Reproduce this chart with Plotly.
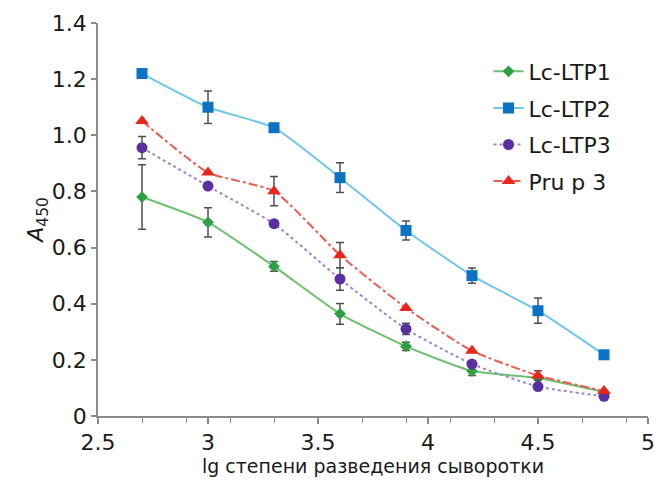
import plotly.graph_objects as go

x_vals = [2.7, 3.0, 3.3, 3.6, 3.9, 4.2, 4.5, 4.8]

ltp1 = [0.78, 0.69, 0.533, 0.364, 0.248, 0.16, 0.135, 0.085]
ltp1_err = [0.115, 0.052, 0.017, 0.037, 0.015, 0.016, 0.0, 0.0]

ltp2 = [1.22, 1.10, 1.027, 0.849, 0.661, 0.50, 0.375, 0.218]
ltp2_err = [0.0, 0.058, 0.0, 0.053, 0.034, 0.027, 0.045, 0.0]

ltp3 = [0.956, 0.819, 0.685, 0.488, 0.31, 0.185, 0.105, 0.07]
ltp3_err = [0.04, 0.0, 0.0, 0.04, 0.02, 0.0, 0.0, 0.0]

prup3 = [1.051, 0.867, 0.801, 0.573, 0.385, 0.232, 0.144, 0.089]
prup3_err = [0.0, 0.0, 0.052, 0.045, 0.0, 0.0, 0.017, 0.0]

series = [
    ("Lc-LTP1", ltp1, ltp1_err, "#6cc070", "#2ea043", "solid", "diamond", 9),
    ("Lc-LTP2", ltp2, ltp2_err, "#6ec6ea", "#0b72c4", "solid", "square", 11),
    ("Lc-LTP3", ltp3, ltp3_err, "#9b86cf", "#5a2fa0", "dot", "circle", 11),
    ("Pru p 3", prup3, prup3_err, "#ee5a4f", "#e8261c", "dashdot", "triangle-up", 12),
]

fig = go.Figure()
for name, y, err, lc, mc, dash, sym, size in series:
    fig.add_trace(go.Scatter(
        x=x_vals, y=y, name=name, mode="lines+markers", legendgroup=name,
        line=dict(color=lc, width=2, dash=dash, shape="spline", smoothing=0.5),
        marker=dict(color=mc, symbol=sym, size=size),
        error_y=dict(type="data", array=err, visible=True, color="#505050",
                     thickness=1.5, width=4),
    ))

font_family = "DejaVu Sans, sans-serif"

fig.update_layout(
    width=663, height=484,
    margin=dict(l=98, r=8, t=23, b=68),
    paper_bgcolor="white", plot_bgcolor="white",
    font=dict(family=font_family, size=22, color="#1a1a1a"),
    legend=dict(x=0.71, y=0.93, xanchor="left", yanchor="top",
                bgcolor="rgba(255,255,255,0)", font=dict(size=22),
                tracegroupgap=5),
    showlegend=True,
)
fig.update_xaxes(
    range=[2.5, 5], tickmode="linear", tick0=2.5, dtick=0.5,
    showgrid=False, zeroline=False, showline=True, linecolor="#8a8a8a", linewidth=1.5,
    ticks="outside", ticklen=6, tickcolor="#8a8a8a", tickwidth=1.5,
    tickfont=dict(size=22),
    minor=dict(tickmode="linear", tick0=2.5, dtick=0.2, ticks="outside", ticklen=5,
               tickcolor="#8a8a8a", tickwidth=1.2, showgrid=False),
    title=dict(text="lg степени разведения сыворотки", font=dict(size=19), standoff=5),
)
fig.update_yaxes(
    range=[0, 1.4], tickmode="array",
    tickvals=[0, 0.2, 0.4, 0.6, 0.8, 1.0, 1.2, 1.4],
    ticktext=["0", "0.2", "0.4", "0.6", "0.8", "1.0", "1.2", "1.4"],
    showgrid=False, zeroline=False, showline=True, linecolor="#8a8a8a", linewidth=1.5,
    ticks="outside", ticklen=5, tickcolor="#8a8a8a", tickwidth=1.5,
    tickfont=dict(size=22),
    title=dict(text="<i>A</i><sub>450</sub>", font=dict(size=22), standoff=2),
)

fig.write_html("out.html")
